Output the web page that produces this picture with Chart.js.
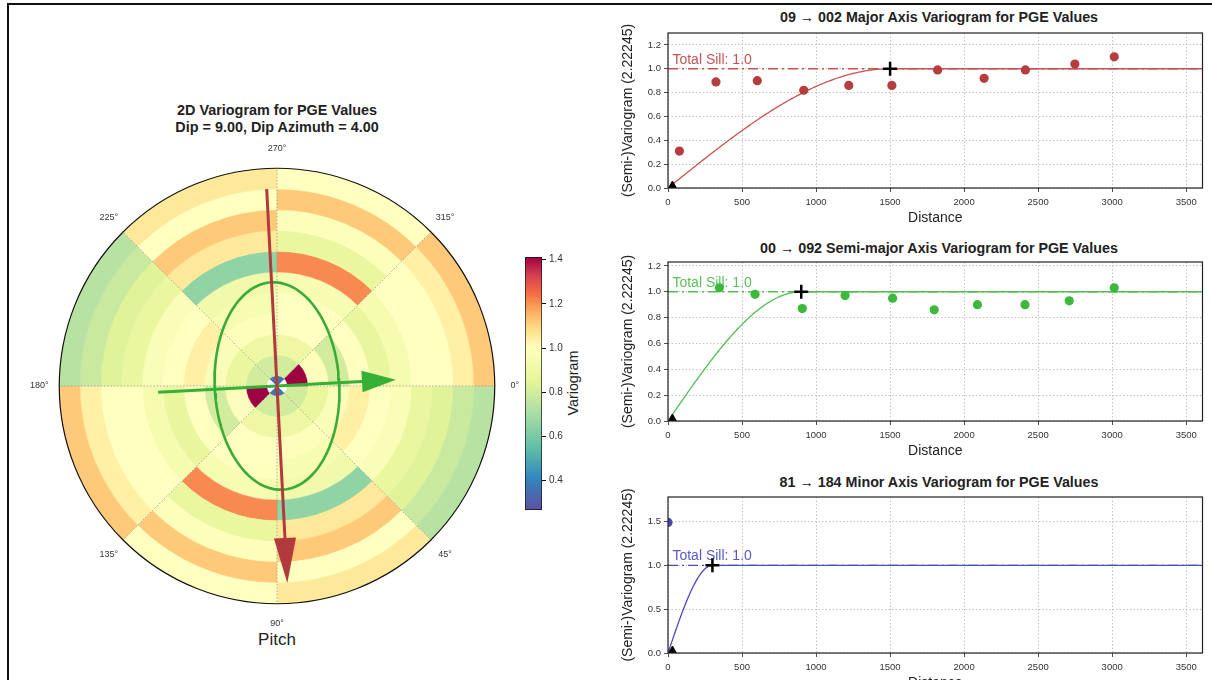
<!DOCTYPE html>
<html>
<head>
<meta charset="utf-8">
<script src="https://cdn.jsdelivr.net/npm/chart.js@4.4.0/dist/chart.umd.min.js"></script>
<style>
  body { margin: 0; width: 1212px; height: 680px; overflow: hidden; background: #fff; position: relative;
         font-family: "Liberation Sans", Arial, sans-serif; color: #222; }
  canvas, .txt { position: absolute; }
  .frame { position: absolute; left: 7px; top: 3px; width: 1400px; height: 900px;
           border-top: 2px solid #111; border-left: 2px solid #111; }
  .txt { white-space: nowrap; transform: translate(-50%, -50%); }
  .bold { font-weight: bold; }
</style>
</head>
<body>
<div class="frame"></div>

<div class="txt bold" style="left:277px; top:110px; font-size:14.4px;">2D Variogram for PGE Values</div>
<div class="txt bold" style="left:277px; top:127px; font-size:14.4px;">Dip = 9.00, Dip Azimuth = 4.00</div>
<div class="txt" style="left:277px; top:640px; font-size:17px;">Pitch</div>
<div class="txt" style="left:573px; top:383px; font-size:14.3px; transform: translate(-50%, -50%) rotate(-90deg);">Variogram</div>

<div class="txt bold" style="left:939px; top:17px; font-size:14.3px;">09 → 002 Major Axis Variogram for PGE Values</div>
<div class="txt bold" style="left:939px; top:248px; font-size:14.3px;">00 → 092 Semi-major Axis Variogram for PGE Values</div>
<div class="txt bold" style="left:939px; top:482px; font-size:14.3px;">81 → 184 Minor Axis Variogram for PGE Values</div>

<canvas id="polarMap" width="520" height="520" style="left:17px; top:126px;"></canvas>
<canvas id="polarOverlay" width="436" height="436" style="left:59px; top:168px;"></canvas>
<canvas id="colorbar" width="80" height="290" style="left:515px; top:240px;"></canvas>
<canvas id="majorChart" width="606" height="228" style="left:606px; top:0px;"></canvas>
<canvas id="semiChart" width="606" height="232" style="left:606px; top:229px;"></canvas>
<canvas id="minorChart" width="606" height="229" style="left:606px; top:464px;"></canvas>

<script>
Chart.defaults.font.family = "'Liberation Sans', Arial, sans-serif";
Chart.defaults.color = "#333";

// ---- 2D variogram map ----
const lagEdges = [0, 150, 450, 750, 1050, 1350, 1650, 1950, 2250, 2550, 2850, 3150];
const angleLabels = ["0°", "45°", "90°", "135°", "180°", "225°", "270°", "315°"];
// gamma per lag ring, inner -> outer. sectors 180-360 mirror 0-180
const gamma000 = [NaN, 0.80, 0.88, 0.97, 1.04, 1.00, 0.97, 0.88, 0.84, 0.78, 0.74];
const gamma045 = [0.36, 0.80, 0.90, 0.98, 0.95, 0.92, 0.65, 1.06, 1.12, 1.00, 1.06];
const gamma090 = [0.36, 0.80, 0.90, 1.00, 1.00, 0.95, 1.21, 0.88, 0.98, 1.12, 1.00];
const gamma135 = [NaN, 1.41, 0.99, 0.80, 1.00, 0.87, 0.94, 1.00, 1.00, 1.04, 1.12];

// anisotropy ellipse + axis arrows
const majorRange = 1500;
const semiRange = 900;
const minorRange = 300;
const majorAzimuth = 87; // degrees, clockwise from 0° (screen)
const majorArrow = [-2850, 2850];
const minorArrow = [-1720, 1720];

// colour scale (Spectral_r, centred on the sill)
const cbMin = 0.267, cbMax = 1.412;
const cbTicks = [0.4, 0.6, 0.8, 1.0, 1.2, 1.4];
const cmapValues = [0.267, 0.414, 0.56, 0.707, 0.853, 1.0, 1.082, 1.165, 1.247, 1.33, 1.412];
const cmapColors = ["#5e4fa2", "#3288bd", "#66c2a5", "#abdda4", "#e6f598", "#ffffbf",
                    "#fee08b", "#fdae61", "#f46d43", "#d53e4f", "#9e0142"];

// ---- directional variograms ----
const totalSill = 1.0;
const xMax = 3610;
const distTicks = [0, 500, 1000, 1500, 2000, 2500, 3000, 3500];
const majorLags = [77, 324, 603, 917, 1221, 1512, 1821, 2135, 2414, 2748, 3014];
const majorGamma = [0.31, 0.89, 0.90, 0.82, 0.86, 0.86, 0.99, 0.92, 0.99, 1.04, 1.10];
const semiLags = [347, 588, 907, 1196, 1517, 1798, 2090, 2411, 2710, 3014];
const semiGamma = [1.03, 0.98, 0.87, 0.97, 0.95, 0.86, 0.90, 0.90, 0.93, 1.03];
const minorLags = [0];
const minorGamma = [1.49];
const majorYTicks = [0, 0.2, 0.4, 0.6, 0.8, 1.0, 1.2];
const minorYTicks = [0, 0.5, 1.0, 1.5];

function hexToRgb(h) {
  const n = parseInt(h.slice(1), 16);
  return [(n >> 16) & 255, (n >> 8) & 255, n & 255];
}

function cmap(v) {
  if (Number.isNaN(v)) return "rgba(255,255,255,0)";
  if (v <= cmapValues[0]) return cmapColors[0];
  const last = cmapValues.length - 1;
  if (v >= cmapValues[last]) return cmapColors[last];
  let i = 0;
  while (v > cmapValues[i + 1]) i++;
  const t = (v - cmapValues[i]) / (cmapValues[i + 1] - cmapValues[i]);
  const a = hexToRgb(cmapColors[i]), b = hexToRgb(cmapColors[i + 1]);
  const c = a.map((ch, k) => Math.round(ch + (b[k] - ch) * t));
  return `rgb(${c[0]},${c[1]},${c[2]})`;
}

// rings: first dataset is the outermost one
const sectorGamma = [gamma000, gamma045, gamma090, gamma135, gamma000, gamma045, gamma090, gamma135];
const ringDatasets = [];
for (let k = lagEdges.length - 2; k >= 0; k--) {
  const colors = sectorGamma.map((g) => cmap(g[k]));
  ringDatasets.push({
    data: sectorGamma.map(() => 1),
    backgroundColor: colors,
    borderColor: colors,
    borderWidth: 0.5,
    weight: lagEdges[k + 1] - lagEdges[k],
  });
}

const polarFrame = {
  id: "polarFrame",
  afterDatasetsDraw(chart) {
    const arc = chart.getDatasetMeta(0).data[0];
    const { x, y, outerRadius } = arc;
    const ctx = chart.ctx;
    ctx.save();
    // dotted angle lines
    ctx.strokeStyle = "#9a9a9a";
    ctx.lineWidth = 0.8;
    ctx.setLineDash([1.5, 1.8]);
    angleLabels.forEach((_, i) => {
      const a = (i * 45 * Math.PI) / 180;
      ctx.beginPath();
      ctx.moveTo(x, y);
      ctx.lineTo(x + outerRadius * Math.cos(a), y + outerRadius * Math.sin(a));
      ctx.stroke();
    });
    ctx.setLineDash([]);
    ctx.strokeStyle = "#111";
    ctx.lineWidth = 1.2;
    ctx.beginPath();
    ctx.arc(x, y, outerRadius, 0, Math.PI * 2);
    ctx.stroke();
    // angle labels
    ctx.fillStyle = "#333";
    ctx.font = "9px 'Liberation Sans', Arial, sans-serif";
    ctx.textAlign = "center";
    ctx.textBaseline = "middle";
    angleLabels.forEach((lab, i) => {
      const a = (i * 45 * Math.PI) / 180;
      ctx.fillText(lab, x + (outerRadius + 20) * Math.cos(a), y + (outerRadius + 20) * Math.sin(a));
    });
    ctx.restore();
  },
};

new Chart(document.getElementById("polarMap"), {
  type: "doughnut",
  data: { labels: angleLabels, datasets: ringDatasets },
  options: {
    responsive: false,
    animation: false,
    events: [],
    rotation: 90,
    cutout: 0,
    layout: { padding: 42 },
    plugins: { legend: { display: false }, tooltip: { enabled: false } },
  },
  plugins: [polarFrame],
});

// overlay: ellipse and arrows in distance units
function dir(deg) {
  const a = (deg * Math.PI) / 180;
  return [Math.cos(a), -Math.sin(a)];
}
const uMaj = dir(majorAzimuth);
const uMin = dir(majorAzimuth - 90);

const ellipsePts = [];
for (let t = 0; t <= 360; t += 4) {
  const c = Math.cos((t * Math.PI) / 180) * majorRange;
  const s = Math.sin((t * Math.PI) / 180) * semiRange;
  ellipsePts.push({ x: c * uMaj[0] + s * uMin[0], y: c * uMaj[1] + s * uMin[1] });
}

const arrows = [
  { from: majorArrow[0], to: majorArrow[1], u: uMaj, color: "#b23a3c", headLen: 650, headHalf: 160 },
  { from: minorArrow[0], to: minorArrow[1], u: uMin, color: "#35b035", headLen: 490, headHalf: 155 },
];
function shaft(a) {
  const end = a.to - a.headLen;
  return [
    { x: a.from * a.u[0], y: a.from * a.u[1] },
    { x: end * a.u[0], y: end * a.u[1] },
  ];
}

const arrowHeads = {
  id: "arrowHeads",
  afterDatasetsDraw(chart) {
    const { ctx, scales: { x, y } } = chart;
    ctx.save();
    arrows.forEach((a) => {
      const tip = [a.to * a.u[0], a.to * a.u[1]];
      const base = [(a.to - a.headLen) * a.u[0], (a.to - a.headLen) * a.u[1]];
      const p = [-a.u[1], a.u[0]];
      const pts = [tip,
        [base[0] + p[0] * a.headHalf, base[1] + p[1] * a.headHalf],
        [base[0] - p[0] * a.headHalf, base[1] - p[1] * a.headHalf]];
      ctx.fillStyle = a.color;
      ctx.beginPath();
      pts.forEach((q, i) => {
        const px = x.getPixelForValue(q[0]), py = y.getPixelForValue(q[1]);
        if (i === 0) ctx.moveTo(px, py); else ctx.lineTo(px, py);
      });
      ctx.closePath();
      ctx.fill();
    });
    ctx.restore();
  },
};

const R = lagEdges[lagEdges.length - 1];
new Chart(document.getElementById("polarOverlay"), {
  type: "line",
  data: {
    datasets: [
      { data: shaft(arrows[0]), borderColor: arrows[0].color, borderWidth: 3 },
      { data: shaft(arrows[1]), borderColor: arrows[1].color, borderWidth: 3 },
      { data: ellipsePts, borderColor: "#3aaa3a", borderWidth: 2.6 },
    ],
  },
  options: {
    responsive: false,
    animation: false,
    events: [],
    layout: { padding: 0 },
    elements: { point: { radius: 0 }, line: { tension: 0 } },
    scales: {
      x: { type: "linear", min: -R, max: R, display: false },
      y: { type: "linear", min: -R, max: R, display: false },
    },
    plugins: { legend: { display: false }, tooltip: { enabled: false } },
  },
  plugins: [arrowHeads],
});

// colour bar
new Chart(document.getElementById("colorbar"), {
  type: "bar",
  data: {
    labels: [""],
    datasets: [{
      data: [[cbMin, cbMax]],
      backgroundColor: (c) => {
        const chart = c.chart;
        if (!chart.chartArea) return cmapColors[5];
        const ys = chart.scales.y;
        const g = chart.ctx.createLinearGradient(0, ys.getPixelForValue(cbMin), 0, ys.getPixelForValue(cbMax));
        cmapValues.forEach((v, i) => g.addColorStop((v - cbMin) / (cbMax - cbMin), cmapColors[i]));
        return g;
      },
      borderColor: "#111",
      borderWidth: 1,
      borderSkipped: false,
      barPercentage: 1,
      categoryPercentage: 1,
    }],
  },
  options: {
    responsive: false,
    animation: false,
    events: [],
    layout: { padding: { top: 17, bottom: 20, left: 10, right: 0 } },
    scales: {
      x: { display: false },
      y: {
        position: "right",
        min: cbMin,
        max: cbMax,
        afterFit: (s) => { s.width = 53; },
        afterBuildTicks: (s) => { s.ticks = cbTicks.map((v) => ({ value: v })); },
        grid: { drawOnChartArea: false, tickLength: 4, tickColor: "#111" },
        border: { display: false },
        ticks: { color: "#333", font: { size: 10 }, padding: 3, callback: (v) => v.toFixed(1) },
      },
    },
    plugins: { legend: { display: false }, tooltip: { enabled: false } },
  },
});

// ---- variogram line plots ----
function spherical(h, a) {
  if (h >= a) return totalSill;
  const r = h / a;
  return totalSill * (1.5 * r - 0.5 * r * r * r);
}

const plotFrame = {
  id: "plotFrame",
  beforeDatasetsDraw(chart, args, opts) {
    const { ctx, scales: { x, y } } = chart;
    ctx.save();
    ctx.fillStyle = opts.color;
    ctx.font = "14px 'Liberation Sans', Arial, sans-serif";
    ctx.textBaseline = "alphabetic";
    ctx.fillText("Total Sill: " + totalSill.toFixed(1), x.getPixelForValue(30), y.getPixelForValue(totalSill) - 5);
    ctx.restore();
  },
  afterDraw(chart) {
    const { ctx, chartArea: a } = chart;
    ctx.save();
    ctx.strokeStyle = "#222";
    ctx.lineWidth = 1.2;
    ctx.strokeRect(a.left, a.top, a.right - a.left, a.bottom - a.top);
    ctx.restore();
  },
};

function buildVariogram(id, lags, gamma, range, yMax, yTicks, dotColor, lineColor, textColor) {
  const model = [];
  for (let h = 0; h <= xMax; h += 10) model.push({ x: h, y: spherical(h, range) });
  new Chart(document.getElementById(id), {
    type: "scatter",
    data: {
      datasets: [
        { data: [{ x: range, y: totalSill }], pointStyle: "cross", pointRadius: 7,
          pointBorderWidth: 2.5, pointBorderColor: "#000" },
        { data: [{ x: 30, y: 0 }], pointStyle: "triangle", pointRadius: 7,
          pointBackgroundColor: "#000", pointBorderColor: "#000" },
        { data: lags.map((x, i) => ({ x, y: gamma[i] })), pointRadius: 4.6,
          pointBackgroundColor: dotColor, pointBorderColor: dotColor, pointBorderWidth: 0 },
        { data: model, showLine: true, borderColor: lineColor, borderWidth: 1.3, pointRadius: 0 },
        { data: [{ x: 0, y: totalSill }, { x: xMax, y: totalSill }], showLine: true,
          borderColor: lineColor, borderWidth: 1.3, borderDash: [10, 4, 2, 4], pointRadius: 0 },
      ],
    },
    options: {
      responsive: false,
      animation: false,
      events: [],
      layout: { padding: { top: 33, left: 10, right: 3, bottom: 0 } },
      scales: {
        x: {
          type: "linear",
          min: 0,
          max: xMax,
          afterFit: (s) => { s.height = 40; },
          afterBuildTicks: (s) => { s.ticks = distTicks.map((v) => ({ value: v })); },
          grid: { color: "#b5b5b5", lineWidth: 0.8, tickLength: 4, tickColor: "#222" },
          border: { display: false, dash: [1.5, 2] },
          ticks: { autoSkip: false, maxRotation: 0, padding: 5,
                   color: "#333", font: { size: 9.5 }, callback: (v) => String(v) },
          title: { display: true, text: "Distance", color: "#222", font: { size: 14 },
                   padding: { top: 0, bottom: 1 } },
        },
        y: {
          type: "linear",
          min: 0,
          max: yMax,
          afterFit: (s) => { s.width = 52; },
          afterBuildTicks: (s) => { s.ticks = yTicks.map((v) => ({ value: v })); },
          grid: { color: "#b5b5b5", lineWidth: 0.8, tickLength: 4, tickColor: "#222" },
          border: { display: false, dash: [1.5, 2] },
          ticks: { autoSkip: false, padding: 3,
                   color: "#333", font: { size: 9.5 }, callback: (v) => v.toFixed(1) },
          title: { display: true, text: "(Semi-)Variogram (2.22245)", color: "#222",
                   font: { size: 14 }, padding: { top: 4, bottom: 0 } },
        },
      },
      plugins: { legend: { display: false }, tooltip: { enabled: false },
                 plotFrame: { color: textColor } },
    },
    plugins: [plotFrame],
  });
}

buildVariogram("majorChart", majorLags, majorGamma, majorRange, 1.3, majorYTicks, "#b53d3d", "#c75252", "#c55353");
buildVariogram("semiChart", semiLags, semiGamma, semiRange, 1.23, majorYTicks, "#3cb83c", "#52bd52", "#5cbf5c");
buildVariogram("minorChart", minorLags, minorGamma, minorRange, 1.78, minorYTicks, "#4545b5", "#4b4bc0", "#5858c4");
</script>
</body>
</html>
